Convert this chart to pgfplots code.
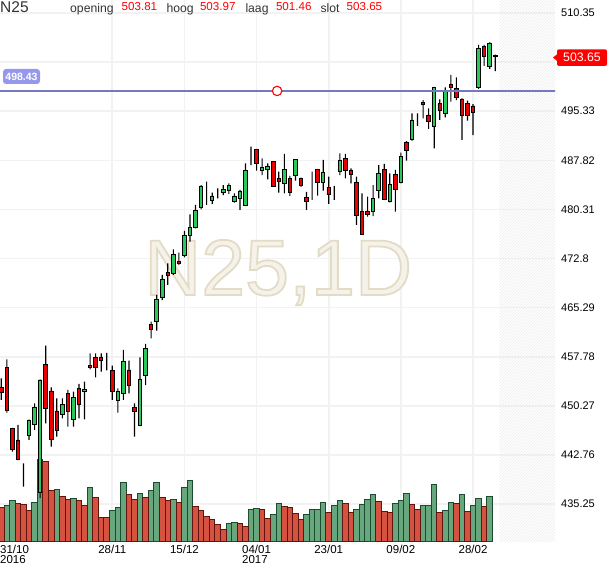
\documentclass[border=0pt]{standalone}
\usepackage{fontspec}
\setmainfont{Liberation Sans}
\usepackage{pgfplots}
\pgfplotsset{compat=1.18}
\usepackage{pgfplotstable}
\usetikzlibrary{patterns}

\definecolor{cgreen}{RGB}{40,200,90}
\definecolor{cred}{RGB}{235,0,0}
\definecolor{vgreen}{RGB}{104,166,126}
\definecolor{vgreenD}{RGB}{26,76,46}
\definecolor{vred}{RGB}{214,82,64}
\definecolor{vredD}{RGB}{96,20,14}
\definecolor{gridc}{RGB}{242,242,242}
\definecolor{lineblue}{RGB}{118,120,192}
\definecolor{lblblue}{RGB}{150,152,238}
\definecolor{wmfill}{RGB}{245,242,235}
\definecolor{hdr}{RGB}{51,51,51}
\definecolor{hred}{RGB}{255,0,0}

\pgfplotstableread{
i o h l c
0 453.10 454.48 451.16 452.34
1 456.16 457.39 449.22 449.52
2 446.83 446.90 443.25 443.62
3 445.04 447.34 441.95 442.09
4 440.19 441.48 437.90 440.19
5 445.81 448.15 445.04 448.10
6 447.44 450.66 446.57 450.04
7 437.04 454.30 436.13 454.22
8 456.62 459.47 447.60 449.89
9 452.54 453.10 444.02 445.15
10 449.48 451.42 445.55 446.57
11 449.02 451.42 448.36 450.40
12 452.18 452.69 447.08 449.48
13 448.21 452.43 447.08 451.57
14 452.95 453.61 448.36 450.55
15 452.43 453.96 448.21 452.80
16 456.51 458.30 455.86 456.16
17 457.69 458.30 454.63 456.16
18 457.69 458.30 455.49 457.28
19 457.97 458.35 455.67 457.97
20 455.70 456.41 451.16 452.46
21 451.16 452.95 449.22 452.43
22 452.18 458.81 451.16 457.13
23 455.75 457.17 452.18 453.45
24 449.98 450.66 445.55 449.48
25 447.34 457.69 447.18 454.33
26 454.88 459.73 453.45 459.07
27 462.68 463.14 460.60 461.97
28 463.14 467.22 461.76 466.61
29 466.81 470.28 466.45 469.67
30 470.69 472.07 468.75 470.23
31 470.54 474.21 470.28 473.44
32 472.42 473.69 471.81 472.07
33 473.23 477.01 472.99 476.35
34 476.40 479.56 475.37 477.57
35 477.57 480.99 477.42 480.22
36 480.63 484.04 480.33 483.89
37 483.13 484.55 480.99 483.13
38 481.75 482.87 481.14 482.36
39 482.87 483.54 482.01 482.87
40 482.87 484.04 482.51 483.39
41 483.17 484.30 482.67 484.04
42 481.49 482.77 481.34 482.36
43 482.01 483.28 480.22 483.13
44 480.88 487.36 480.83 486.34
45 487.87 489.90 487.10 487.87
46 489.50 489.55 486.23 487.36
47 486.23 488.13 485.57 486.75
48 486.45 487.36 484.92 486.95
49 487.61 487.70 483.78 483.89
50 485.07 486.08 482.87 484.55
51 484.30 488.79 482.77 486.45
52 485.07 485.42 482.36 482.93
53 485.57 488.00 484.70 487.97
54 485.07 485.16 483.78 483.94
55 482.16 482.98 480.22 481.60
56 484.66 486.08 481.75 484.66
57 486.45 486.50 482.41 484.46
58 484.46 487.87 483.17 485.93
59 483.69 485.31 481.14 482.62
60 482.87 483.89 481.75 482.87
61 486.08 488.89 485.57 487.87
62 488.13 488.79 485.07 486.34
63 486.34 486.60 484.30 485.68
64 484.40 485.31 477.93 479.46
65 479.96 482.77 476.40 476.50
66 480.07 482.26 479.20 479.56
67 479.96 484.04 479.30 482.01
68 483.17 487.10 482.01 485.83
69 486.45 487.26 481.75 481.86
70 481.49 485.83 481.40 484.20
71 485.68 486.34 479.96 483.39
72 484.40 488.98 484.30 488.37
73 490.58 490.77 487.76 489.29
74 491.08 495.01 490.82 493.99
75 494.60 495.01 493.07 494.60
76 496.63 497.04 494.25 496.33
77 494.75 495.78 492.61 493.73
78 492.96 499.05 489.66 498.99
79 496.54 497.15 493.99 495.41
80 495.01 498.99 494.40 498.31
81 499.49 500.87 496.79 498.93
82 498.83 500.52 497.04 497.40
83 497.20 497.30 490.93 494.64
84 496.54 496.94 493.88 494.64
85 496.13 496.43 491.69 495.16
86 498.93 505.46 498.73 504.95
87 505.30 505.46 502.25 503.67
88 502.14 505.87 501.79 505.72
89 503.81 503.97 501.46 503.65
}\candles

\pgfplotstableread{
i v
1 35.7
2 40.7
6 38.4
7 81.4
10 51.4
13 42.4
16 53.4
20 30.7
21 33.4
22 58.4
25 47.4
27 50.4
28 58.4
31 41.4
33 53.4
34 60.4
41 17.4
42 18.4
45 31.4
46 32.4
49 26.4
50 37.4
55 26.4
56 31.4
57 31.4
58 38.4
60 35.7
61 40.4
64 31.4
65 36.4
66 41.4
67 46.4
71 37.4
72 40.4
73 47.4
76 35.7
77 35.7
78 56.4
80 30.4
81 38.4
83 46.4
85 35.7
86 42.4
88 44.7
}\volg

\pgfplotstableread{
i v
0 33.4
3 37.4
4 36.7
5 30.7
8 79.7
9 50.0
11 44.7
12 41.4
14 40.7
15 35.7
17 43.4
18 23.4
19 23.4
23 46.4
24 41.4
26 43.4
29 43.4
30 40.0
32 38.4
35 34.7
36 30.7
37 24.7
38 21.4
39 16.4
40 11.4
43 17.4
44 14.7
47 31.4
48 22.4
51 34.7
52 33.4
53 27.4
54 21.4
59 28.4
62 37.4
63 28.4
68 39.7
69 29.4
70 28.4
74 36.7
75 31.4
79 28.4
82 37.4
84 29.4
87 34.7
}\volr

\pgfplotsset{
  baseax/.style={scale only axis, width=555pt, height=541pt,
    at={(0pt,27pt)}, anchor=south west,
    xmin=-0.234, xmax=99.77, ymin=429.59, ymax=512.34,
    enlargelimits=false},
  overlay/.style={baseax, hide axis}
}

\begin{document}
\begin{tikzpicture}
\useasboundingbox (0pt,0pt) rectangle (610pt,568pt);

% main axis: grid, ticks, hatch
\begin{axis}[baseax,
  axis line style={draw=none}, major tick length=0pt,
  xtick={20,33,46,59,72,85},
  xticklabels={28/11,15/12,{04/01\\2017},23/01,09/02,28/02},
  xticklabel style={align=left, font=\fontsize{11.5}{10.4}\selectfont, inner sep=0pt, yshift=-4pt},
  extra x ticks={0},
  extra x tick labels={{31/10\\2016}},
  extra x tick style={grid=none, xticklabel style={anchor=north west, xshift=-1.3pt}},
  ytick={435.25,442.76,450.27,457.78,465.29,472.8,480.31,487.82,495.33,502.84,510.35},
  yticklabels={435.25,442.76,450.27,457.78,465.29,472.8,480.31,487.82,495.33,,510.35},
  yticklabel pos=right,
  yticklabel style={anchor=west, font=\fontsize{11}{11}\selectfont, inner sep=0pt, xshift=6pt},
  grid=major, grid style={gridc, line width=1.6pt},
]
\fill[pattern=north east lines, pattern color=black!8] (axis cs:89.73,429.0) rectangle (axis cs:100.5,513.0);
\end{axis}

% watermark (filled, with stroked outline)
\node[anchor=base west, inner sep=0pt, text=wmfill, font=\fontsize{79}{79}\selectfont]
  at (144pt,273pt) {\special{pdf:literal 2 Tr 1.8 w 0.89 0.86 0.77 RG}N25,1D\special{pdf:literal 0 Tr}};

% volume
\begin{axis}[overlay, ymin=0, ymax=540.7, ybar]
\addplot[bar shift=0pt, bar width=1, fill=vgreen, draw=vgreenD, line width=1pt] table[x=i,y=v] {\volg};
\addplot[bar shift=0pt, bar width=1, fill=vred, draw=vredD, line width=1pt] table[x=i,y=v] {\volr};
\end{axis}

% wicks
\begin{axis}[overlay, ybar stacked, bar width=1.15pt]
\addplot[draw=none, fill=none] table[x=i, y=l] {\candles};
\addplot[draw=none, fill=black] table[x=i, y expr={\thisrow{h}-\thisrow{l}}] {\candles};
\end{axis}

% bodies
\begin{axis}[overlay, ybar stacked, bar width=3.5pt]
\addplot[draw=none, fill=none] table[x=i, y expr={min(\thisrow{o},\thisrow{c})}] {\candles};
\addplot[draw=black, fill=cgreen, line width=0.9pt] table[x=i, y expr={max(\thisrow{c}-\thisrow{o},0)}] {\candles};
\addplot[draw=black, fill=cred, line width=0.9pt] table[x=i, y expr={max(\thisrow{o}-\thisrow{c},0)}] {\candles};
\end{axis}

% horizontal level line and handle
\begin{axis}[overlay]
\addplot[lineblue, line width=2pt] coordinates {(-1,498.43) (101,498.43)};
\addplot[only marks, mark=*, mark size=4.7pt, mark options={draw=hred, fill=white, line width=1.1pt}] coordinates {(49.7,498.43)};
\end{axis}

% header
\node[anchor=base west, inner sep=0pt, text=hdr, font=\fontsize{15.5}{15.5}\selectfont] at (0pt,555.3pt) {N25};
\begin{scope}[every node/.style={anchor=base west, inner sep=0pt}]
\node[text=hdr, font=\fontsize{12.2}{12.2}\selectfont] at (70pt,555.3pt) {opening};
\node[text=hred, font=\fontsize{11.6}{11.6}\selectfont] at (121.5pt,557.7pt) {503.81};
\node[text=hdr, font=\fontsize{12.2}{12.2}\selectfont] at (166.3pt,555.3pt) {hoog};
\node[text=hred, font=\fontsize{11.6}{11.6}\selectfont] at (199.8pt,557.7pt) {503.97};
\node[text=hdr, font=\fontsize{12.2}{12.2}\selectfont] at (245.3pt,555.3pt) {laag};
\node[text=hred, font=\fontsize{11.6}{11.6}\selectfont] at (275.8pt,557.7pt) {501.46};
\node[text=hdr, font=\fontsize{12.2}{12.2}\selectfont] at (320.3pt,555.3pt) {slot};
\node[text=hred, font=\fontsize{11.6}{11.6}\selectfont] at (346.5pt,557.7pt) {503.65};
\end{scope}

% level label
\fill[lblblue, rounded corners=3pt] (3pt,484pt) rectangle (40pt,499pt);
\node[text=white, inner sep=0pt, font=\bfseries\fontsize{10.5}{10.5}\selectfont] at (21.5pt,491.5pt) {498.43};

% last price label
\fill[hred] (553pt,510.4pt) -- (558pt,514.5pt) -- (558pt,506.3pt) -- cycle;
\fill[hred, rounded corners=2pt] (557pt,502pt) rectangle (607pt,518.7pt);
\node[text=white, inner sep=0pt, font=\fontsize{12.3}{12.3}\selectfont] at (582pt,510.4pt) {503.65};
\end{tikzpicture}
\end{document}
